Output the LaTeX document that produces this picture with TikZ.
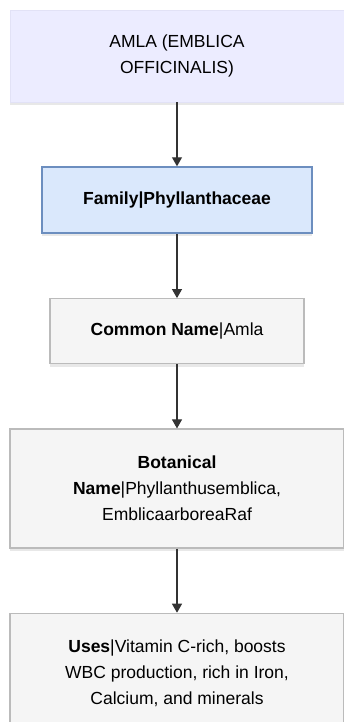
\documentclass[tikz,border=0pt]{standalone}
\usepackage{fontspec}
\setmainfont{Liberation Sans}
\usetikzlibrary{positioning,shadows,arrows.meta}
\definecolor{rootfill}{HTML}{ECECFF}
\definecolor{rootdraw}{HTML}{E2E2F6}
\definecolor{familyfill}{HTML}{DAE8FC}
\definecolor{familydraw}{HTML}{6C8EBF}
\definecolor{itemfill}{HTML}{F5F5F5}
\definecolor{itemdraw}{HTML}{BBBBBB}
\definecolor{linkcol}{HTML}{333333}
\tikzset{
  >={Triangle[length=9pt,width=10pt]},
  box/.style={rectangle,align=center,inner sep=0pt,
    font=\fontsize{17.5}{26}\selectfont,
    drop shadow={shadow xshift=0pt,shadow yshift=-3pt,opacity=0.18}},
  rootbox/.style={box,fill=rootfill,draw=rootdraw,line width=0.6pt,
    minimum width=334pt,minimum height=92pt},
  familybox/.style={box,fill=familyfill,draw=familydraw,line width=1.8pt,
    minimum width=270pt,minimum height=66pt},
  itembox/.style={box,fill=itemfill,draw=itemdraw,line width=1.3pt},
  link/.style={->,draw=linkcol,line width=1.1pt}
}

\begin{document}
\begin{tikzpicture}
    \useasboundingbox (0,0) rectangle (343pt,-722pt);
    \node[rootbox] (amla) at (177pt,-56pt) {AMLA (EMBLICA\\OFFICINALIS)};
    \node[familybox,below=64pt of amla] (family) {\textbf{Family|Phyllanthaceae}};
    \node[itembox,minimum width=254pt,minimum height=65pt,below=64pt of family] (common)
      {\textbf{Common Name}|Amla};
    \node[itembox,minimum width=334pt,minimum height=119pt,below=64pt of common] (botanical)
      {\textbf{Botanical}\\\textbf{Name}|Phyllanthusemblica,\\EmblicaarboreaRaf};
    \node[itembox,minimum width=334pt,minimum height=119pt,below=64pt of botanical] (uses)
      {\textbf{Uses}|Vitamin C-rich, boosts\\WBC production, rich in Iron,\\Calcium, and minerals};
    \draw[link] (amla) -- (family);
    \draw[link] (family) -- (common);
    \draw[link] (common) -- (botanical);
    \draw[link] (botanical) -- (uses);
  \end{tikzpicture}
\end{document}
